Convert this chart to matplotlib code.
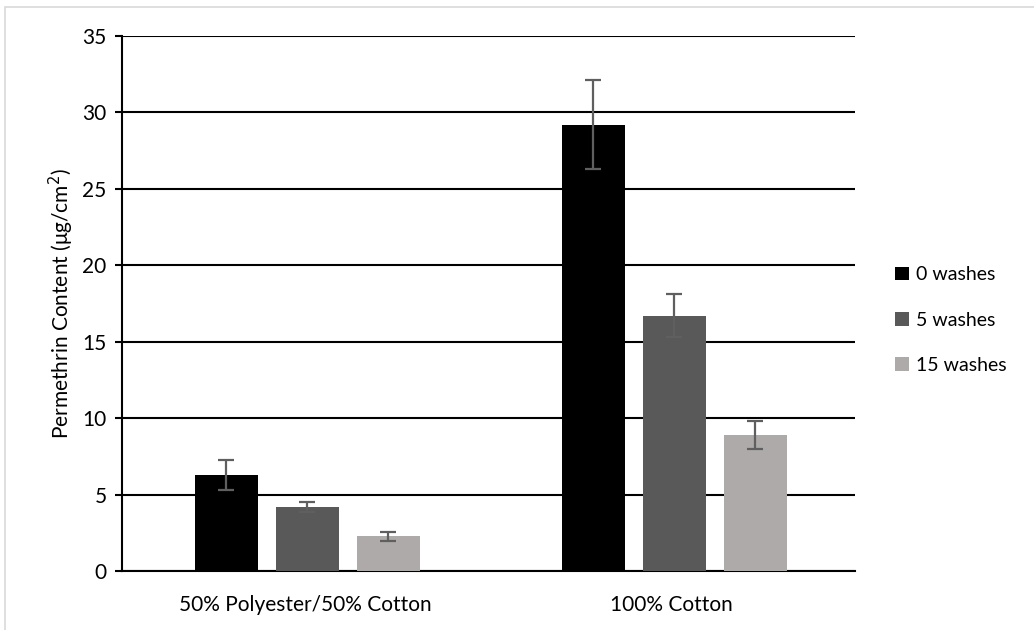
import matplotlib.pyplot as plt
import numpy as np
from matplotlib.patches import Rectangle

# --- Data ---
fabrics = ['50% Polyester/50% Cotton', '100% Cotton']
wash_labels = ['0 washes', '5 washes', '15 washes']
content_0 = [6.3, 29.2]
content_5 = [4.2, 16.7]
content_15 = [2.3, 8.9]
err_0 = [1.0, 2.9]
err_5 = [0.3, 1.4]
err_15 = [0.3, 0.9]

series = [content_0, content_5, content_15]
errors = [err_0, err_5, err_15]
colors = ['#000000', '#595959', '#AEAAAA']

plt.rcParams['font.family'] = ['Lato', 'DejaVu Sans']
plt.rcParams['font.size'] = 15

fig = plt.figure(figsize=(10.34, 6.3), dpi=100)
ax = fig.add_axes([0.118, 0.0932, 0.709, 0.850])

# light frame around the chart area
fig.patches.append(Rectangle((5 / 1034, -0.01), 1.1, 1 - 7 / 630 + 0.01,
                             transform=fig.transFigure, fill=False,
                             edgecolor='#d9d9d9', linewidth=1.2))

x = np.arange(len(fabrics))
width = 0.172
step = 0.221
for i, (vals, errs, c, lab) in enumerate(zip(series, errors, colors, wash_labels)):
    ax.bar(x + 0.006 + (i - 1) * step, vals, width, color=c, label=lab, zorder=3,
           yerr=errs, error_kw=dict(ecolor='#5f5f5f', elinewidth=1.6,
                                    capsize=6, capthick=1.6, zorder=4))

ax.set_xlim(-0.5, 1.5)
ax.set_ylim(0, 35)
ax.set_yticks(np.arange(0, 36, 5))
ax.set_xticks(x)
ax.set_xticklabels(fabrics)
ax.tick_params(axis='x', length=0, pad=17)
ax.tick_params(axis='y', length=5, width=1.5, pad=6)
ax.yaxis.grid(True, color='black', linewidth=1.5, zorder=0)
ax.set_axisbelow(True)
for s in ['top', 'right']:
    ax.spines[s].set_visible(False)
ax.spines['left'].set_linewidth(1.5)
ax.spines['bottom'].set_linewidth(1.5)
ax.set_ylabel('Permethrin Content (μg/cm$^2$)', labelpad=5)

fig.legend(loc='center left', bbox_to_anchor=(0.849, 0.492), frameon=False,
           fontsize=14, handlelength=0.72, handleheight=0.72, handletextpad=0.35,
           labelspacing=1.45)

fig.savefig('out.png', dpi=100)
